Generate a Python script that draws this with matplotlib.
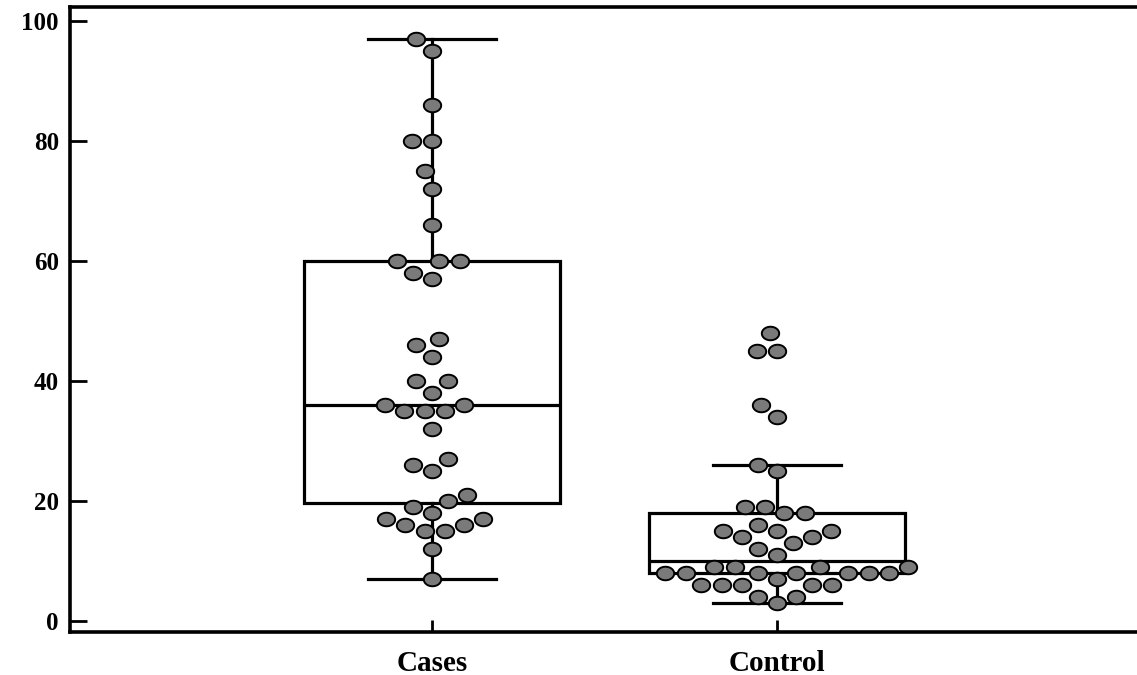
import numpy as np
import pandas as pd
import matplotlib
matplotlib.use("Agg")
import matplotlib.pyplot as plt
import seaborn as sns
from matplotlib.path import Path

# ============================================================
# DATA
# ============================================================

groups = ["Cases", "Control"]

cases = [97, 95, 86, 80, 80, 75, 72, 66, 60, 60, 60, 58, 57,
         47, 46, 44, 40, 40, 38, 36, 36, 35, 35, 35, 32,
         27, 26, 25, 21, 20, 19, 18, 17, 17, 16, 16, 15, 15, 12, 7]

control = [48, 45, 45, 36, 34, 26, 25,
           19, 19, 18, 18, 16, 15, 15, 15, 14, 14, 13, 12, 11,
           9, 9, 9, 9, 8, 8, 8, 8, 8, 8, 8,
           7, 6, 6, 6, 6, 6, 4, 4, 3]

y_ticks = [0, 20, 40, 60, 80, 100]

df = pd.DataFrame({
    "group": ["Cases"] * len(cases) + ["Control"] * len(control),
    "value": cases + control,
})

# ============================================================
# FIGURE
# ============================================================

W, H = 1137, 675
fig = plt.figure(figsize=(W / 100, H / 100), dpi=100)
ax = fig.add_axes([70 / W, 43 / H, 1 - 70 / W, 625 / H])

# slightly wide ellipse marker, like the reference dots
t = np.linspace(0, 2 * np.pi, 60)
ellipse = Path(np.column_stack([np.cos(t), 0.78 * np.sin(t)]), closed=True)

line_kw = dict(color="black", linewidth=2.3)

ax.boxplot(
    [cases, control],
    positions=[0, 1],
    widths=0.74,
    capwidths=0.37,
    showfliers=False,
    patch_artist=True,
    boxprops=dict(facecolor="white", edgecolor="black", linewidth=2.3),
    whiskerprops=line_kw,
    capprops=line_kw,
    medianprops=line_kw,
    zorder=1,
)

sns.swarmplot(
    data=df,
    x="group",
    y="value",
    order=groups,
    ax=ax,
    color="#7a7a7a",
    edgecolor="black",
    linewidth=1.4,
    size=12.5,
    marker=ellipse,
    zorder=3,
)

# ============================================================
# AXES STYLE
# ============================================================

ax.set_xlim(-1.049, 2.043)
ax.set_ylim(-1.83, 102.33)

ax.set_xticks([0, 1])
ax.set_xticklabels(groups)
ax.set_yticks(y_ticks)
ax.set_xlabel("")
ax.set_ylabel("")

ax.spines["right"].set_visible(False)
for s in ["left", "top", "bottom"]:
    ax.spines[s].set_linewidth(2.6)

ax.tick_params(axis="y", direction="in", length=12, width=2, pad=8)
ax.tick_params(axis="x", direction="in", length=8.5, width=2, pad=13)

for lab in ax.get_yticklabels():
    lab.set_fontfamily("Liberation Serif")
    lab.set_fontweight("bold")
    lab.set_fontsize(18)

for lab in ax.get_xticklabels():
    lab.set_fontfamily("Liberation Serif")
    lab.set_fontweight("bold")
    lab.set_fontsize(21)

fig.savefig("out.png", dpi=100)
